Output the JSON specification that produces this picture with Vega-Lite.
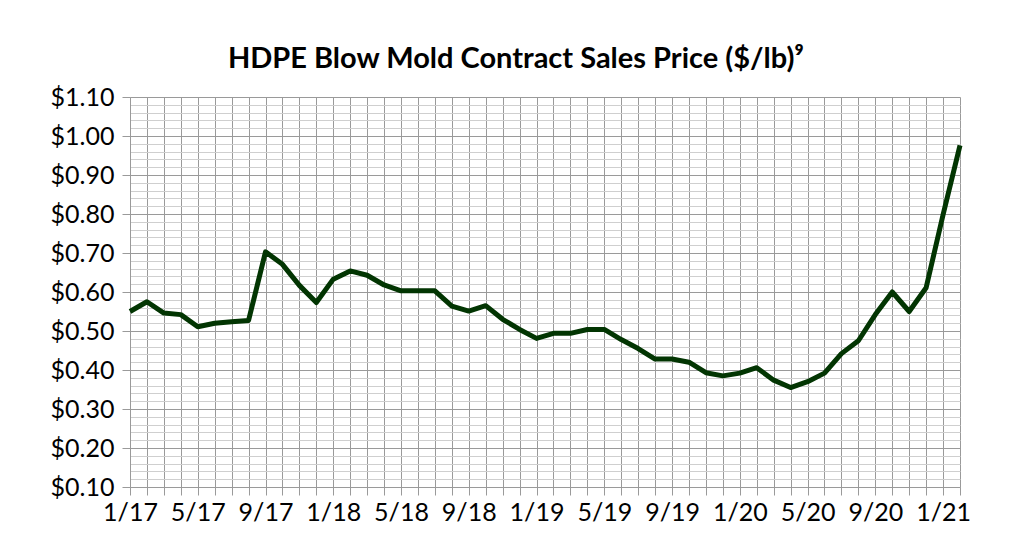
{
  "$schema": "https://vega.github.io/schema/vega-lite/v6.json",
  "autosize": {"type": "none"},
  "padding": {"left": 130, "top": 97, "right": 50, "bottom": 59},
  "width": 830,
  "height": 390,
  "background": "white",
  "title": {
    "text": "HDPE Blow Mold Contract Sales Price ($/lb)⁹",
    "font": "Lato",
    "fontSize": 29,
    "fontWeight": "bold",
    "color": "#000000",
    "anchor": "middle",
    "frame": "group",
    "dx": -29,
    "offset": 11
  },
  "data": {
    "values": [
      {"month": "1/17", "price": 0.550},
      {"month": "2/17", "price": 0.575},
      {"month": "3/17", "price": 0.546},
      {"month": "4/17", "price": 0.542},
      {"month": "5/17", "price": 0.511},
      {"month": "6/17", "price": 0.520},
      {"month": "7/17", "price": 0.524},
      {"month": "8/17", "price": 0.527},
      {"month": "9/17", "price": 0.703},
      {"month": "10/17", "price": 0.671},
      {"month": "11/17", "price": 0.617},
      {"month": "12/17", "price": 0.573},
      {"month": "1/18", "price": 0.633},
      {"month": "2/18", "price": 0.654},
      {"month": "3/18", "price": 0.643},
      {"month": "4/18", "price": 0.618},
      {"month": "5/18", "price": 0.603},
      {"month": "6/18", "price": 0.603},
      {"month": "7/18", "price": 0.603},
      {"month": "8/18", "price": 0.564},
      {"month": "9/18", "price": 0.551},
      {"month": "10/18", "price": 0.565},
      {"month": "11/18", "price": 0.530},
      {"month": "12/18", "price": 0.504},
      {"month": "1/19", "price": 0.481},
      {"month": "2/19", "price": 0.494},
      {"month": "3/19", "price": 0.494},
      {"month": "4/19", "price": 0.504},
      {"month": "5/19", "price": 0.504},
      {"month": "6/19", "price": 0.478},
      {"month": "7/19", "price": 0.455},
      {"month": "8/19", "price": 0.428},
      {"month": "9/19", "price": 0.428},
      {"month": "10/19", "price": 0.420},
      {"month": "11/19", "price": 0.393},
      {"month": "12/19", "price": 0.385},
      {"month": "1/20", "price": 0.392},
      {"month": "2/20", "price": 0.406},
      {"month": "3/20", "price": 0.374},
      {"month": "4/20", "price": 0.355},
      {"month": "5/20", "price": 0.370},
      {"month": "6/20", "price": 0.392},
      {"month": "7/20", "price": 0.442},
      {"month": "8/20", "price": 0.475},
      {"month": "9/20", "price": 0.542},
      {"month": "10/20", "price": 0.600},
      {"month": "11/20", "price": 0.550},
      {"month": "12/20", "price": 0.611},
      {"month": "1/21", "price": 0.798},
      {"month": "2/21", "price": 0.976}
    ]
  },
  "mark": {"type": "line", "color": "#023502", "strokeWidth": 5, "strokeJoin": "round"},
  "encoding": {
    "x": {
      "field": "month",
      "type": "ordinal",
      "sort": null,
      "scale": {"type": "point", "padding": 0},
      "axis": {
        "title": null,
        "labelAngle": 0,
        "labelExpr": "test(/^(1|5|9)\\//, datum.value) ? datum.value : ''",
        "labelFont": "Lato",
        "labelFontSize": 25,
        "labelColor": "#000000",
        "labelPadding": 5,
        "labelOverlap": false,
        "grid": true,
        "gridColor": "#9a9a9a",
        "gridWidth": 1,
        "domainColor": "#9a9a9a",
        "tickColor": "#9a9a9a",
        "tickSize": 8
      }
    },
    "y": {
      "field": "price",
      "type": "quantitative",
      "scale": {"domain": [0.1, 1.1], "nice": false, "zero": false},
      "axis": {
        "title": null,
        "values": [0.1, 0.12, 0.14, 0.16, 0.18, 0.2, 0.22, 0.24, 0.26, 0.28, 0.3, 0.32, 0.34, 0.36, 0.38, 0.4, 0.42, 0.44, 0.46, 0.48, 0.5, 0.52, 0.54, 0.56, 0.58, 0.6, 0.62, 0.64, 0.66, 0.68, 0.7, 0.72, 0.74, 0.76, 0.78, 0.8, 0.82, 0.84, 0.86, 0.88, 0.9, 0.92, 0.94, 0.96, 0.98, 1.0, 1.02, 1.04, 1.06, 1.08, 1.1],
        "labelExpr": "round(datum.value*100) % 10 == 0 ? format(datum.value, '$.2f') : ''",
        "labelFont": "Lato",
        "labelFontSize": 25,
        "labelColor": "#000000",
        "labelPadding": 8,
        "labelOverlap": false,
        "grid": true,
        "gridColor": {"condition": {"test": "round(datum.value*100) % 10 == 0", "value": "#9a9a9a"}, "value": "#cfcfcf"},
        "gridWidth": 1,
        "domainColor": "#9a9a9a",
        "tickColor": {"condition": {"test": "round(datum.value*100) % 10 == 0", "value": "#9a9a9a"}, "value": "transparent"},
        "tickSize": 8
      }
    }
  },
  "config": {"view": {"stroke": null}}
}
